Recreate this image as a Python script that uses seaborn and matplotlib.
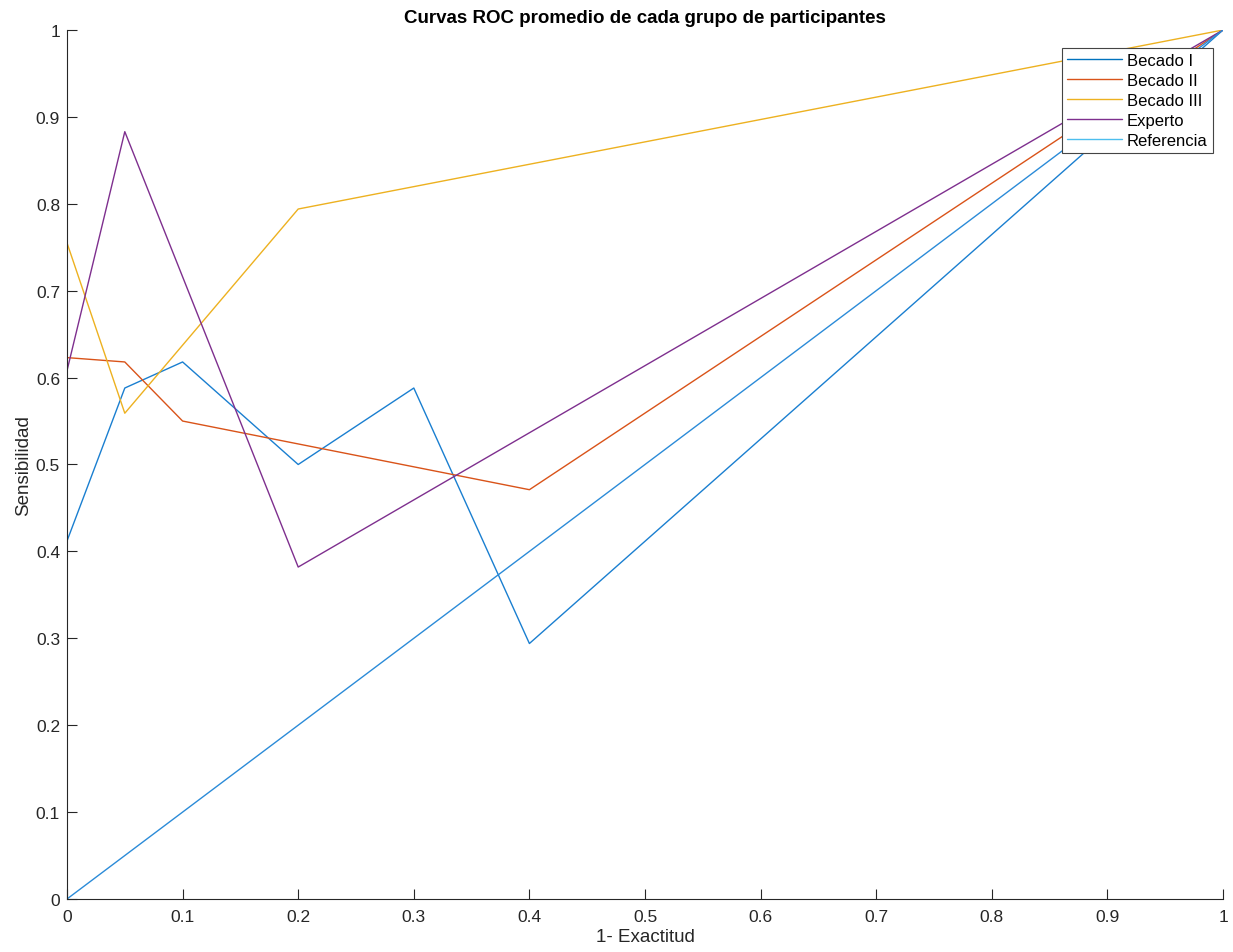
import matplotlib
matplotlib.use("Agg")
import matplotlib.pyplot as plt
import seaborn as sns
import pandas as pd
from matplotlib.ticker import FuncFormatter, MultipleLocator
from matplotlib.lines import Line2D

# ---- data ----
groups = ["Becado I", "Becado II", "Becado III", "Experto", "Referencia"]
line_colors = ["#1a7fd0", "#D95319", "#EDB120", "#7E2F8E", "#2b8bd8"]
legend_colors = ["#0072BD", "#D95319", "#EDB120", "#7E2F8E", "#4DBEEE"]

becado1_x = [0, 0.05, 0.1, 0.2, 0.3, 0.4, 1]
becado1_y = [0.412, 0.588, 0.618, 0.5, 0.588, 0.294, 1]
becado2_x = [0, 0.05, 0.1, 0.4, 1]
becado2_y = [0.623, 0.618, 0.55, 0.471, 1]
becado3_x = [0, 0.05, 0.2, 1]
becado3_y = [0.755, 0.559, 0.794, 1]
experto_x = [0, 0.05, 0.2, 1]
experto_y = [0.608, 0.883, 0.382, 1]
ref_x = [0, 1]
ref_y = [0, 1]

xs = [becado1_x, becado2_x, becado3_x, experto_x, ref_x]
ys = [becado1_y, becado2_y, becado3_y, experto_y, ref_y]

rows = []
for g, xv, yv in zip(groups, xs, ys):
    for a, b in zip(xv, yv):
        rows.append({"grupo": g, "x": a, "y": b})
df = pd.DataFrame(rows)

sns.set_theme(style="white")
plt.rcParams["font.family"] = ["Liberation Sans", "DejaVu Sans"]
axc = "#262626"

fig = plt.figure(figsize=(12.33, 9.53), dpi=100)
ax = fig.add_axes([67/1233, 53/953, 1156/1233, 869/953])

sns.lineplot(data=df, x="x", y="y", hue="grupo", hue_order=groups,
             palette=dict(zip(groups, line_colors)), sort=False, estimator=None,
             units="grupo", linewidth=1.0, ax=ax, legend=False)

ax.set_xlim(0, 1)
ax.set_ylim(0, 1)
ax.xaxis.set_major_locator(MultipleLocator(0.1))
ax.yaxis.set_major_locator(MultipleLocator(0.1))
fmt = FuncFormatter(lambda v, p: "%g" % round(v, 2))
ax.xaxis.set_major_formatter(fmt)
ax.yaxis.set_major_formatter(fmt)

for s in ["top", "right"]:
    ax.spines[s].set_visible(False)
for s in ["left", "bottom"]:
    ax.spines[s].set_color(axc)
    ax.spines[s].set_linewidth(0.8)

ax.tick_params(axis="both", direction="in", length=7, width=0.8, color=axc,
               labelcolor=axc, labelsize=12.5, left=True, bottom=True)
ax.tick_params(axis="x", pad=7)
ax.tick_params(axis="y", pad=5)

ax.set_xlabel("1- Exactitud", fontsize=13.5, color=axc, labelpad=3)
ax.set_ylabel("Sensibilidad", fontsize=13.5, color=axc, labelpad=3)
ax.set_title("Curvas ROC promedio de cada grupo de participantes",
             fontsize=13.5, fontweight="bold", color="black", pad=6)

handles = [Line2D([0], [0], color=c, lw=1.0) for c in legend_colors]
leg = ax.legend(handles, groups, loc="upper right", bbox_to_anchor=(0.991, 0.979),
                fontsize=12, frameon=True, fancybox=False, framealpha=1,
                edgecolor="#444444", handlelength=3.3, handletextpad=0.3,
                labelspacing=0.3, borderpad=0.3, borderaxespad=0)
leg.get_frame().set_linewidth(0.8)
for t in leg.get_texts():
    t.set_color("black")

fig.savefig("out.png", dpi=100)
